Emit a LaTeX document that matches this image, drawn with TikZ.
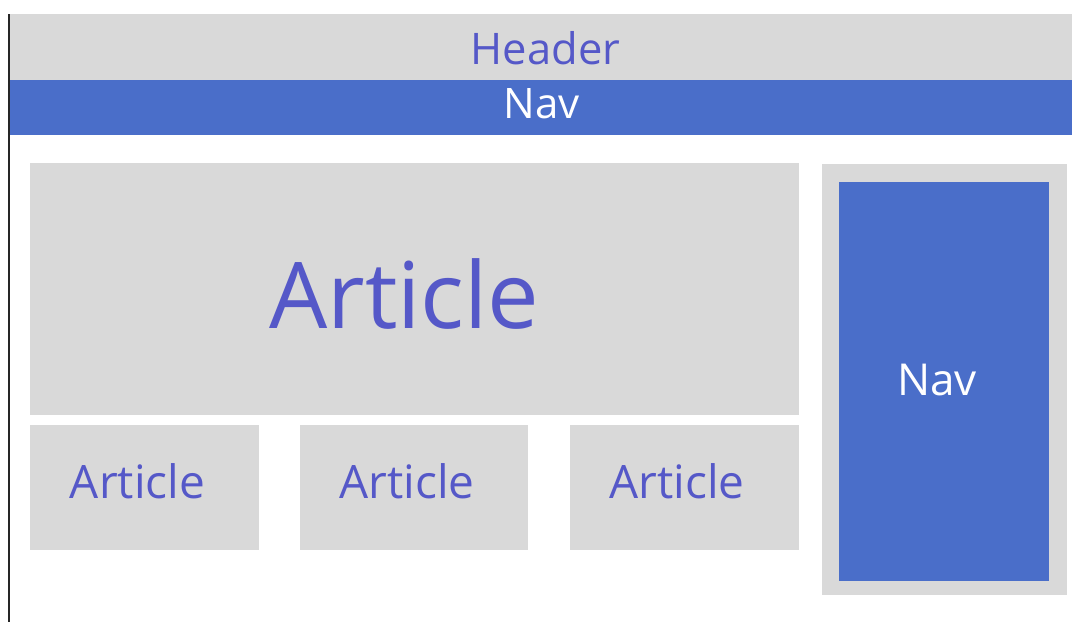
\documentclass[tikz,border=0pt]{standalone}
\usepackage{fontspec}
\setmainfont{Open Sans}
\definecolor{boxgray}{HTML}{D9D9D9}
\definecolor{navblue}{HTML}{4A6EC9}
\definecolor{txtblue}{HTML}{5558C8}
\tikzset{
  graybox/.style={fill=boxgray, draw=none},
  bluebox/.style={fill=navblue, draw=none},
  lbl/.style={anchor=base, inner sep=0pt, text=txtblue},
  wlbl/.style={anchor=base, inner sep=0pt, text=white},
}
\newcommand{\fs}[1]{\fontsize{#1}{#1}\selectfont}
\begin{document}
\begin{tikzpicture}[x=1pt,y=-1pt]
\useasboundingbox (0,0) rectangle (1072,622);
\fill[white] (0,0) rectangle (1072,622);
% header and nav bands
\fill[graybox] (10,14) rectangle (1072,80);
\fill[bluebox] (10,80) rectangle (1072,135);
\draw[black!85, line width=2pt] (9,14) -- (9,622);
% articles
\fill[graybox] (30,163) rectangle (799,415);
\fill[graybox] (30,425) rectangle (259,550);
\fill[graybox] (300,425) rectangle (528,550);
\fill[graybox] (570,425) rectangle (799,550);
% aside
\fill[graybox] (822,164) rectangle (1067,595);
\fill[bluebox] (839,182) rectangle (1049,581);
% labels
\node[lbl] (header) at (545.5,64) {\fs{43.5}Header};
\node[wlbl] (nav1) at (542,118) {\fs{42}Nav};
\node[lbl] (art0) at (404.5,328) {\fs{92}Article};
\node[lbl] (art1) at (137.5,498) {\fs{46}Article};
\node[lbl] (art2) at (407,498) {\fs{46}Article};
\node[lbl] (art3) at (677,498) {\fs{46}Article};
\node[wlbl] (nav2) at (937,395) {\fs{44}Nav};
\end{tikzpicture}
\end{document}
